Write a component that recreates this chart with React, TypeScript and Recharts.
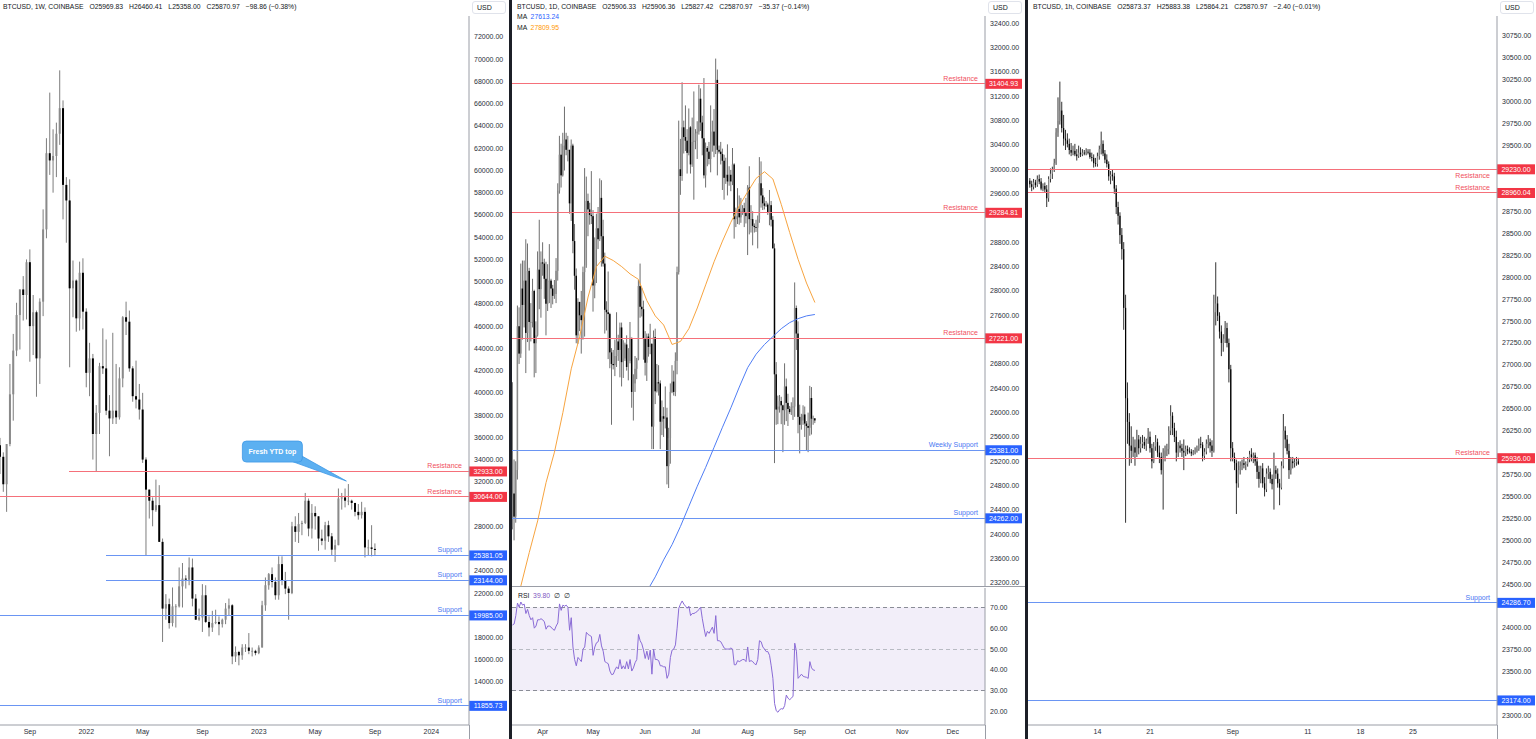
import React from 'react';
import { ComposedChart, Bar, Line, XAxis, YAxis, ReferenceLine, ReferenceArea, ReferenceDot } from 'recharts';

type OHLC = [number, number, number, number];
type Level = { price: number; kind: 'res' | 'sup'; text: string; from?: number; below?: boolean };

// ---------------- Weekly (1W) : index 0 = week of 5 Jul 2021 ----------------
const weeklyCandles: OHLC[] = [
  [35290, 35950, 32700, 34250], [34250, 34650, 31100, 31780], [31780, 35400, 29300, 35400], [35400, 42600, 35200, 39870],
  [39870, 45300, 37500, 43800], [43800, 48100, 43300, 47000], [47000, 49300, 43900, 49300], [49300, 50500, 46500, 48800],
  [48800, 52000, 46600, 51750], [51750, 52900, 42800, 46000], [46000, 48800, 43400, 47250], [47250, 47400, 39650, 43100],
  [43100, 48500, 40800, 48200], [48200, 56500, 46900, 54700], [54700, 62900, 53900, 61550], [61550, 67000, 59600, 60900],
  [60900, 63700, 58000, 61300], [61300, 64300, 59400, 63300], [63300, 69000, 62300, 65600], [65600, 66300, 55600, 58700],
  [58700, 59400, 53500, 57300], [57300, 59200, 42300, 49400], [49400, 51900, 46800, 50100], [50100, 50200, 45500, 46700],
  [46700, 51800, 45600, 50800], [50800, 52100, 45700, 47300], [47300, 47600, 40500, 41800], [41800, 44500, 39700, 43100],
  [43100, 43500, 34000, 36300], [36300, 38900, 32900, 38200], [38200, 42700, 36300, 42400], [42400, 45800, 41700, 42200],
  [42200, 44800, 38000, 38400], [38400, 39800, 34300, 37700], [37700, 45400, 37200, 38400], [38400, 42600, 37200, 37800],
  [37800, 42300, 37600, 41300], [41300, 46900, 40500, 46800], [46800, 48200, 45200, 46400], [46400, 47400, 41900, 42200],
  [42200, 42400, 39200, 39700], [39700, 42900, 38600, 39400], [39400, 40800, 37600, 38500], [38500, 40000, 33700, 34000],
  [34000, 34200, 25400, 31300], [31300, 31300, 28700, 30300], [30300, 30600, 28000, 29450], [29450, 32200, 29300, 29900],
  [29900, 31700, 26600, 26600], [26600, 26900, 17600, 20600], [20600, 21900, 19600, 21000], [21000, 21500, 18800, 19300],
  [19300, 22500, 19000, 20800], [20800, 21000, 18900, 20800], [20800, 24300, 20700, 22600], [22600, 24700, 20700, 23300],
  [23300, 23600, 22400, 23200], [23200, 25200, 22700, 24300], [24300, 25100, 20800, 21500], [21500, 21900, 19600, 19600],
  [19600, 20600, 19500, 19800], [19800, 22800, 18500, 21800], [21800, 22700, 19300, 19400], [19400, 19900, 18100, 18900],
  [18900, 20400, 18500, 19300], [19300, 20500, 19200, 19400], [19400, 19900, 18200, 19200], [19200, 19700, 18900, 19600],
  [19600, 21100, 19200, 20600], [20600, 21500, 20000, 20900], [20900, 21000, 15600, 16300], [16300, 17200, 15800, 16700],
  [16700, 16800, 15500, 16400], [16400, 17400, 16000, 17100], [17100, 17400, 16700, 17100], [17100, 18400, 16500, 16800],
  [16800, 17100, 16300, 16800], [16800, 16900, 16400, 16600], [16600, 17300, 16500, 17100], [17100, 21300, 17100, 20900],
  [20900, 23400, 20400, 22700], [22700, 23800, 22300, 23700], [23700, 24300, 22500, 23000], [23000, 23400, 21400, 21800],
  [21800, 25300, 21400, 24600], [24600, 25300, 22700, 23100], [23100, 23900, 21900, 22400], [22400, 22600, 19600, 22000],
  [22000, 28400, 21900, 28000], [28000, 28900, 26600, 27500], [27500, 29200, 26500, 28200], [28200, 28500, 27200, 28300],
  [28300, 31000, 28200, 30300], [30300, 30500, 27100, 27800], [27800, 30000, 26900, 29200], [29200, 29800, 27700, 28900],
  [28900, 28900, 25800, 26900], [26900, 27700, 26300, 26700], [26700, 28400, 25900, 28100], [28100, 28500, 26600, 27100],
  [27100, 27400, 25400, 25900], [25900, 26800, 24800, 26300], [26300, 31400, 26300, 30500], [30500, 31000, 29500, 30600],
  [30600, 31400, 29700, 30300], [30300, 31800, 29900, 30300], [30300, 30400, 29500, 30100], [30100, 30100, 28900, 29300],
  [29300, 30000, 28600, 29000], [29000, 30200, 28700, 29300], [29300, 29700, 25200, 26100], [26100, 26800, 25350, 26100],
  [26100, 28100, 25300, 25970], [25969.83, 26460.41, 25358.0, 25870.97],
];
const weeklyTickWeeks = [9, 26, 43, 61, 78, 95, 113, 130];
const weeklyTickLabels = ['Sep', '2022', 'May', 'Sep', '2023', 'May', 'Sep', '2024'];
const weeklyPriceTicks = [12000, 14000, 16000, 18000, 20000, 22000, 24000, 26000, 28000, 30000, 32000, 34000, 36000, 38000, 40000,
  42000, 44000, 46000, 48000, 50000, 52000, 54000, 56000, 58000, 60000, 62000, 64000, 66000, 68000, 70000, 72000];
const weeklyLevels: Level[] = [
  { price: 32933, kind: 'res', text: 'Resistance', from: 20.8 },
  { price: 30644, kind: 'res', text: 'Resistance', from: 0 },
  { price: 25381.05, kind: 'sup', text: 'Support', from: 31.9 },
  { price: 23144, kind: 'sup', text: 'Support', from: 31.9 },
  { price: 19985, kind: 'sup', text: 'Support', from: 0 },
  { price: 11855.73, kind: 'sup', text: 'Support', from: 0 },
];
const weeklyCalloutWeek = 105;
const weeklyCalloutText = 'Fresh YTD top';
const weeklyHeader = ['BTCUSD, 1W, COINBASE', 'O25969.83', 'H26460.41', 'L25358.00', 'C25870.97', '\u221298.86 (\u22120.38%)'];

// ---------------- Daily (1D) : index 0 = 14 Mar 2023 ----------------
const dailyCandles: OHLC[] = [
  // Mar 14-31
  [24120, 26500, 24080, 24670], [24670, 25230, 23900, 24290], [24290, 25200, 24190, 25060], [25060, 27760, 24900, 27420],
  [27420, 27730, 26800, 26970], [26970, 28450, 26900, 28040], [28040, 28500, 27200, 27770], [27770, 28500, 27400, 28170],
  [28170, 28850, 26650, 27310], [27310, 28780, 27160, 28330], [28330, 28380, 27020, 27490], [27490, 27800, 27170, 27490],
  [27490, 28200, 27400, 28000], [28000, 28020, 26580, 27140], [27140, 27500, 26650, 27270], [27270, 28650, 27250, 28350],
  [28350, 29170, 27700, 28030], [28030, 28650, 27560, 28470],
  // Apr
  [28470, 28800, 28250, 28450], [28450, 28530, 27870, 28200], [28200, 28480, 27270, 27790], [27790, 28440, 27670, 28170],
  [28170, 28770, 27800, 28170], [28170, 28200, 27720, 28040], [28040, 28100, 27780, 27920], [27920, 28180, 27870, 27950],
  [27950, 28540, 27800, 28330], [28330, 29770, 28170, 29650], [29650, 30550, 29600, 30240], [30240, 30420, 29700, 29900],
  [29900, 30600, 29880, 30390], [30390, 31030, 29980, 30490], [30490, 30600, 30230, 30320], [30320, 30550, 30130, 30320],
  [30320, 30320, 29270, 29440], [29440, 30490, 29150, 30390], [30390, 30420, 28620, 28820], [28820, 29100, 28020, 28250],
  [28250, 28370, 27140, 27270], [27270, 27880, 27130, 27820], [27820, 27820, 27340, 27600], [27600, 28000, 26970, 27520],
  [27520, 28400, 27200, 28310], [28310, 30020, 27250, 28420], [28420, 29880, 28380, 29480], [29480, 29600, 28900, 29340],
  [29340, 29450, 29090, 29250], [29250, 29970, 29100, 29230],
  // May
  [29230, 29330, 27660, 28090], [28090, 28880, 27880, 28680], [28680, 29270, 28130, 29030], [29030, 29380, 28690, 28850],
  [28850, 29850, 28820, 29530], [29530, 29820, 28400, 28900], [28900, 29170, 28400, 28450], [28450, 28630, 27300, 27690],
  [27690, 27830, 27350, 27650], [27650, 28320, 26880, 27620], [27620, 27640, 26730, 26990], [26990, 27060, 25800, 26800],
  [26800, 27030, 26710, 26780], [26780, 27200, 26600, 26930], [26930, 27650, 26750, 27170], [27170, 27280, 26850, 27030],
  [27030, 27480, 26580, 27400], [27400, 27480, 26430, 26830], [26830, 27190, 26570, 26890], [26890, 27150, 26850, 27120],
  [27120, 27270, 26690, 26750], [26750, 27060, 26530, 26850], [26850, 27490, 26810, 27230], [27230, 27230, 26080, 26340],
  [26340, 26630, 25870, 26480], [26480, 26930, 26340, 26720], [26720, 26900, 26550, 26870], [26870, 28180, 26860, 28080],
  [28080, 28450, 27560, 27740], [27740, 28050, 27580, 27700], [27700, 27840, 26870, 27220],
  // Jun
  [27220, 27340, 26610, 26820], [26820, 27300, 26520, 27250], [27250, 27300, 26920, 27080], [27080, 27460, 26960, 27130],
  [27130, 27140, 25400, 25770], [25770, 27350, 25400, 27240], [27240, 27380, 26140, 26350], [26350, 26800, 26330, 26500],
  [26500, 26780, 26280, 26480], [26480, 26530, 25400, 25850], [25850, 26200, 25630, 25940], [25940, 26090, 25600, 25900],
  [25900, 26430, 25740, 25920], [25920, 26080, 24820, 25120], [25120, 25750, 24760, 25580], [25580, 26480, 25160, 26340],
  [26340, 26780, 26320, 26510], [26510, 26690, 26280, 26340], [26340, 26990, 26270, 26850], [26850, 28400, 26630, 28310],
  [28310, 30800, 28270, 30000], [30000, 30500, 29580, 29890], [29890, 31430, 29810, 30690], [30690, 30800, 30260, 30530],
  [30530, 31050, 30300, 30470], [30470, 30660, 29930, 30270], [30270, 31000, 30230, 30690], [30690, 30710, 29930, 30080],
  [30080, 30850, 30040, 30450], [30450, 31280, 29500, 30470],
  // Jul
  [30470, 30660, 30330, 30590], [30590, 30790, 30170, 30620], [30620, 31390, 30570, 31160], [31160, 31330, 30630, 30770],
  [30770, 30880, 30230, 30510], [30510, 31500, 29850, 29900], [29900, 30440, 29700, 30350], [30350, 30380, 30050, 30290],
  [30290, 30450, 30080, 30170], [30170, 31050, 29950, 30410], [30410, 30800, 30290, 30620], [30620, 30990, 30200, 30390],
  [30390, 31820, 30250, 31470], [31470, 31640, 29900, 30320], [30320, 30390, 30260, 30290], [30290, 30450, 30080, 30250],
  [30250, 30340, 29660, 30140], [30140, 30240, 29500, 29860], [29860, 30190, 29760, 29910], [29910, 30410, 29570, 29800],
  [29800, 30050, 29730, 29910], [29910, 29990, 29640, 29800], [29800, 30350, 29740, 30080], [30080, 30100, 28860, 29180],
  [29180, 29370, 29050, 29230], [29230, 29690, 29100, 29350], [29350, 29570, 29090, 29210], [29210, 29530, 29120, 29320],
  [29320, 29410, 29250, 29360], [29360, 29450, 29050, 29280], [29280, 29530, 29110, 29230],
  // Aug
  [29230, 29740, 28590, 29700], [29700, 30050, 28930, 29180], [29180, 29410, 28960, 29180], [29180, 29310, 28750, 29070],
  [29070, 29110, 28960, 29050], [29050, 29170, 28970, 29040], [29040, 29240, 28700, 29180], [29180, 30200, 29120, 29770],
  [29770, 30130, 29370, 29570], [29570, 29690, 29330, 29440], [29440, 29540, 29340, 29400], [29400, 29480, 29380, 29420],
  [29420, 29450, 29250, 29290], [29290, 29660, 29080, 29410], [29410, 29480, 29060, 29170], [29170, 29230, 28700, 28700],
  [28700, 28780, 25170, 26630], [26630, 26830, 25800, 26050], [26050, 26280, 25810, 26100], [26100, 26290, 26000, 26190],
  [26190, 26260, 25810, 26120], [26120, 26130, 25350, 26040], [26040, 26810, 25800, 26430], [26430, 26560, 25860, 26160],
  [26160, 26310, 25780, 26060], [26060, 26110, 25980, 26010], [26010, 26170, 25960, 26090], [26090, 26250, 25880, 26100],
  [26100, 28140, 25930, 27720], [27720, 27760, 27030, 27300], [27300, 27500, 25660, 25930],
  // Sep 1-10
  [25930, 26130, 25330, 25800], [25800, 25980, 25720, 25870], [25870, 26120, 25800, 25970], [25970, 26100, 25600, 25820],
  [25820, 25860, 25380, 25780], [25780, 26000, 25350, 25750], [25750, 26440, 25620, 26240], [26240, 26420, 25640, 25900],
  [25900, 25950, 25800, 25906.33], [25906.33, 25906.36, 25827.42, 25870.97],
];
const rsiValues = [
  61.5, 62, 66, 72, 70, 72.5, 71, 71.5, 67, 69,
  66, 64, 65, 60, 61, 64, 64, 64.5, 64, 63,
  59.5, 61, 61, 60.5, 59.5, 59, 61, 62.5, 71.6, 68.5,
  71, 70.5, 71, 70, 59, 65, 51, 45, 42, 46,
  45, 44, 50, 51, 58, 57, 56.5, 56, 47, 51,
  53, 53.5, 57, 51.5, 49, 44, 43.5, 43, 39.5, 37.8,
  38, 40, 41.5, 40.5, 45, 40.5, 42, 40.5, 44, 40.5,
  45, 39.5, 41, 43.5, 45, 57, 54, 52.5, 49.5, 45.5,
  49, 45, 49.5, 38, 50, 45, 45, 44.5, 42, 42,
  41.5, 41.5, 36, 38, 46, 49.5, 50, 52, 60, 69.5,
  71.5, 73, 71.5, 70.5, 69.5, 70.5, 66, 67, 67, 67.5,
  68, 69, 70, 64.5, 60, 56, 58.5, 57.5, 59, 60.5,
  57.5, 66, 54, 54, 53.5, 52, 50.5, 50, 50, 50,
  50.5, 50, 42.5, 42.5, 44.5, 44, 44.5, 45, 45, 44,
  51, 44, 44.5, 44, 43, 42.5, 45, 54, 53.5, 51,
  50, 48.8, 48.8, 47, 42, 36, 24, 20.5, 19.8, 21,
  21.5, 21.3, 23, 28, 26.5, 25.8, 26.5, 27.5, 52.8, 49,
  36, 37, 38, 37, 36.7, 36.5, 36, 44, 41, 40, 39.8,
];
// moving averages read every 5th day (day 0, 5, 10, ... 180)
const maFastEvery5 = [22400, 23150, 23700, 24220, 24850, 25350, 26000, 26720, 27250, 27900, 28400, 28570, 28500, 28400,
  28280, 28190, 27840, 27590, 27440, 27120, 27170, 27380, 27720, 28100, 28480, 28820, 29130, 29400, 29630, 29850, 29960,
  29840, 29420, 28960, 28520, 28130, 27809.95];
const maSlowEvery5: (number | null)[] = [null, null, null, null, null, null, null, null, null, null, null, null, null, null,
  null, 22700, 23060, 23300, 23580, 23830, 24130, 24460, 24790, 25100, 25430, 25760, 26080, 26420, 26740, 26960, 27120,
  27250, 27380, 27480, 27545, 27590, 27613.24];
const dailyTickDays = [18, 48, 79, 109, 140, 171, 201, 232, 262];
const dailyTickLabels = ['Apr', 'May', 'Jun', 'Jul', 'Aug', 'Sep', 'Oct', 'Nov', 'Dec'];
const dailyPriceTicks = [23200, 23600, 24000, 24400, 24800, 25200, 25600, 26000, 26400, 26800, 27200, 27600, 28000, 28400,
  28800, 29200, 29600, 30000, 30400, 30800, 31200, 31600, 32000, 32400];
const rsiTicks = [20, 30, 40, 50, 60, 70];
const dailyLevels: Level[] = [
  { price: 31404.93, kind: 'res', text: 'Resistance' },
  { price: 29284.81, kind: 'res', text: 'Resistance' },
  { price: 27221, kind: 'res', text: 'Resistance' },
  { price: 25381, kind: 'sup', text: 'Weekly Support' },
  { price: 24262, kind: 'sup', text: 'Support' },
];
const dailyHeader = ['BTCUSD, 1D, COINBASE', 'O25906.33', 'H25906.36', 'L25827.42', 'C25870.97', '\u221235.37 (\u22120.14%)'];

// ---------------- Intraday (1h chart, sampled 6-hourly) : index 0 = 5 Aug 2023 00:00 ----------------
const hourlyCandles: OHLC[] = [
  [29100, 29130, 29020, 29060], [29060, 29100, 28980, 29030], [29030, 29120, 29000, 29080], [29080, 29110, 29020, 29050],
  [29050, 29160, 29030, 29120], [29120, 29170, 29060, 29090], [29090, 29130, 28990, 29010], [29010, 29070, 28980, 29040],
  [29040, 29080, 28960, 29000], [29000, 29050, 28800, 28900], [28900, 29150, 28860, 29120], [29120, 29240, 29080, 29180],
  [29180, 29260, 29120, 29230], [29230, 29350, 29200, 29300], [29300, 29700, 29280, 29650], [29650, 30050, 29600, 29780],
  [29780, 30230, 29740, 29900], [29900, 30000, 29650, 29700], [29700, 29850, 29500, 29580], [29580, 29680, 29450, 29560],
  [29560, 29640, 29480, 29520], [29520, 29580, 29400, 29450], [29450, 29530, 29380, 29420], [29420, 29500, 29390, 29440],
  [29440, 29520, 29380, 29400], [29400, 29460, 29330, 29380], [29380, 29500, 29360, 29420], [29420, 29480, 29370, 29400],
  [29400, 29460, 29380, 29420], [29420, 29450, 29390, 29410], [29410, 29470, 29390, 29430], [29430, 29460, 29400, 29420],
  [29420, 29460, 29350, 29370], [29370, 29420, 29320, 29360], [29360, 29400, 29250, 29300], [29300, 29360, 29260, 29290],
  [29290, 29420, 29260, 29380], [29380, 29500, 29340, 29460], [29460, 29660, 29400, 29520], [29520, 29560, 29380, 29410],
  [29410, 29450, 29300, 29340], [29340, 29400, 29250, 29290], [29290, 29320, 29100, 29150], [29150, 29210, 29060, 29170],
  [29170, 29230, 29100, 29150], [29150, 29190, 28950, 29010], [29010, 29050, 28720, 28800], [28800, 28860, 28600, 28700],
  [28700, 28740, 28380, 28480], [28480, 28560, 28200, 28320], [28320, 28400, 27400, 27650], [27650, 27800, 25200, 26620],
  [26620, 26800, 26100, 26350], [26350, 26450, 25850, 26080], [26080, 26300, 25880, 26020], [26020, 26180, 25950, 26060],
  [26060, 26150, 25850, 26000], [26000, 26260, 25950, 26150], [26150, 26200, 25980, 26050], [26050, 26180, 26000, 26100],
  [26100, 26200, 26050, 26120], [26120, 26180, 26040, 26080], [26080, 26160, 26020, 26140], [26140, 26280, 26100, 26180],
  [26180, 26240, 26000, 26050], [26050, 26100, 25820, 25900], [25900, 26120, 25880, 26070], [26070, 26200, 26020, 26120],
  [26120, 26160, 25950, 26000], [26000, 26080, 25880, 25950], [25950, 26000, 25750, 25800], [25800, 26050, 25350, 25960],
  [25960, 26080, 25900, 26020], [26020, 26100, 25960, 26040], [26040, 26300, 25980, 26250], [26250, 26540, 26200, 26420],
  [26420, 26460, 26200, 26280], [26280, 26340, 26120, 26180], [26180, 26250, 25900, 26000], [26000, 26120, 25950, 26080],
  [26080, 26140, 26000, 26050], [26050, 26100, 25950, 26020], [26020, 26150, 25800, 26000], [26000, 26080, 25960, 26040],
  [26040, 26080, 25980, 26020], [26020, 26060, 25990, 26010], [26010, 26040, 25960, 25990], [25990, 26030, 25970, 26000],
  [26000, 26060, 25980, 26020], [26020, 26080, 26000, 26040], [26040, 26160, 26020, 26100], [26100, 26180, 26050, 26090],
  [26090, 26120, 25900, 25960], [25960, 26050, 25920, 26010], [26010, 26150, 25980, 26100], [26100, 26200, 26050, 26120],
  [26120, 26160, 26000, 26080], [26080, 26140, 25950, 26020], [26020, 27800, 26000, 27600], [27600, 28170, 27450, 27700],
  [27700, 27780, 27500, 27560], [27560, 27600, 27300, 27380], [27380, 27450, 27100, 27250], [27250, 27350, 27150, 27300],
  [27300, 27500, 27250, 27420], [27420, 27480, 27200, 27250], [27250, 27300, 26800, 26950], [26950, 27000, 25900, 26050],
  [26050, 26120, 25900, 25950], [25950, 26000, 25800, 25880], [25880, 25920, 25300, 25650], [25650, 25900, 25600, 25800],
  [25800, 25900, 25750, 25850], [25850, 25920, 25800, 25880], [25880, 25950, 25820, 25860], [25860, 25900, 25800, 25870],
  [25870, 25950, 25840, 25920], [25920, 26020, 25890, 25980], [25980, 26050, 25900, 25950], [25950, 26000, 25880, 25970],
  [25970, 26000, 25850, 25900], [25900, 25950, 25700, 25780], [25780, 25850, 25600, 25700], [25700, 25850, 25650, 25820],
  [25820, 25880, 25600, 25650], [25650, 25720, 25500, 25580], [25580, 25820, 25550, 25760], [25760, 25850, 25700, 25780],
  [25780, 25820, 25650, 25700], [25700, 25750, 25580, 25640], [25640, 26000, 25350, 25800], [25800, 25850, 25700, 25760],
  [25760, 25820, 25600, 25650], [25650, 25700, 25400, 25600], [25600, 25900, 25580, 25850], [25850, 26440, 25820, 26250],
  [26250, 26300, 26050, 26150], [26150, 26200, 25980, 26020], [26020, 26100, 25700, 25800], [25800, 25950, 25750, 25900],
  [25900, 25950, 25820, 25880], [25880, 25930, 25830, 25890], [25890, 25950, 25850, 25900], [25900, 25940, 25860, 25870.97],
];
const hourlyStepHours = 6;
const hourlyTickHours = [216, 384, 648, 888, 1056, 1224];
const hourlyTickLabels = ['14', '21', 'Sep', '11', '18', '25'];
const hourlyPriceTicks = [23000, 23250, 23500, 23750, 24000, 24250, 24500, 24750, 25000, 25250, 25500, 25750, 26000, 26250,
  26500, 26750, 27000, 27250, 27500, 27750, 28000, 28250, 28500, 28750, 29000, 29250, 29500, 29750, 30000, 30250, 30500, 30750];
const hourlyLevels: Level[] = [
  { price: 29230, kind: 'res', text: 'Resistance', below: true },
  { price: 28960.04, kind: 'res', text: 'Resistance' },
  { price: 25936, kind: 'res', text: 'Resistance' },
  { price: 24286.7, kind: 'sup', text: 'Support' },
  { price: 23174, kind: 'sup', text: '' },
];
const hourlyHeader = ['BTCUSD, 1h, COINBASE', 'O25873.37', 'H25883.38', 'L25864.21', 'C25870.97', '\u22122.40 (\u22120.01%)'];

// ---------------- styling ----------------
const FONT = '"Liberation Sans", Arial, sans-serif';
const TEXT = '#2a2e39';
const AXIS = '#9a9da6';
const RED = '#f23645';
const BLUE = '#2962ff';
const RED_LINE = '#f5707a';
const BLUE_LINE = '#6a95f3';
const UP_BODY = '#8a8a8a';
const DOWN_BODY = '#000000';
const TICK = { fontSize: 7, fill: TEXT };

const W_X: [number, number] = [0, 141.35];
const W_Y: [number, number] = [10133, 73888];
const D_X: [number, number] = [-0.27, 281.23];
const D_Y: [number, number] = [23149.6, 32520];
const R_Y: [number, number] = [13.7, 79.2];
const H_X: [number, number] = [-6.1, 1492.3];
const H_Y: [number, number] = [22894, 30978];

const weeklyRows = weeklyCandles.map(([o, h, l, c], w) => ({ w, o, h, l, c, range: [l, h] }));
const dailyRows = dailyCandles.map(([o, h, l, c], i) => ({
  i, o, h, l, c, range: [l, h], rsi: rsiValues[i],
  maFast: i % 5 === 0 ? maFastEvery5[i / 5] : null,
  maSlow: i % 5 === 0 ? maSlowEvery5[i / 5] : null,
}));
const hourlyRows = hourlyCandles.map(([o, h, l, c], k) => ({ t: k * hourlyStepHours, o, h, l, c, range: [l, h] }));

const fmt2 = (v: number) => v.toFixed(2);

// hide price-axis ticks that would sit under a level tag (as the price tags cover them)
const ticksClearOfTags = (ticks: number[], levels: Level[], domain: [number, number], plotH: number) =>
  ticks.filter((t) => levels.every((lv) => (Math.abs(t - lv.price) * plotH) / (domain[1] - domain[0]) >= 7.5));

const candleShape = (bodyW: number, wick: string) => (props: any) => {
  const { x, y, width, height, payload } = props;
  if (!payload || typeof x !== 'number' || typeof y !== 'number') return <g />;
  const { o, h, l, c } = payload;
  const cx = x + width / 2;
  const k = h > l ? height / (h - l) : 0;
  const yo = y + (h - o) * k;
  const yc = y + (h - c) * k;
  const up = c >= o;
  return (
    <g>
      <line x1={cx} x2={cx} y1={y} y2={y + height} stroke={wick} strokeWidth={1} />
      <rect x={cx - bodyW / 2} y={Math.min(yo, yc)} width={bodyW} height={Math.max(Math.abs(yc - yo), 0.8)}
        fill={up ? UP_BODY : DOWN_BODY} />
    </g>
  );
};
const weeklyShape = candleShape(2, '#7d7d7d');
const dailyShape = candleShape(1.5, '#6f6f6f');
const hourlyShape = candleShape(1.2, '#333333');

const levelLabel = (lv: Level, tagW: number) => (p: any) => {
  const vb = (p && p.viewBox) || p || {};
  const right = (vb.x || 0) + (vb.width || 0);
  const y = vb.y || 0;
  const isRes = lv.kind === 'res';
  return (
    <g>
      {lv.text ? (
        <text x={right - 7} y={lv.below ? y + 9 : y - 3} textAnchor="end" fontSize={7} fill={isRes ? '#f0505d' : '#4a78f2'}>
          {lv.text}
        </text>
      ) : null}
      <rect x={right} y={y - 5} width={tagW} height={10} fill={isRes ? RED : BLUE} />
      <text x={right + tagW / 2} y={y + 2.5} textAnchor="middle" fontSize={7} fill="#ffffff">{lv.price.toFixed(2)}</text>
    </g>
  );
};

const Callout = (props: any) => {
  const { cx, cy } = props;
  if (typeof cx !== 'number' || typeof cy !== 'number') return <g />;
  const bw = 60;
  const bh = 21;
  const bx = cx - 106;
  const by = cy - 43;
  const tipX = cx - 2;
  const tipY = cy - 3;
  return (
    <g>
      <path d={`M ${bx + bw - 10} ${by + bh - 0.5} L ${tipX} ${tipY} L ${bx + bw - 0.5} ${by + bh - 6} Z`}
        fill="#5cb0f1" stroke="#3d98e6" strokeWidth={0.8} />
      <rect x={bx} y={by} width={bw} height={bh} rx={4} fill="#5cb0f1" stroke="#3d98e6" strokeWidth={0.8} />
      <path d={`M ${bx + bw - 10} ${by + bh - 1.2} L ${bx + bw - 1.2} ${by + bh - 6}`} stroke="#5cb0f1" strokeWidth={1.6} />
      <text x={bx + bw / 2} y={by + bh / 2 + 2.5} textAnchor="middle" fontSize={7} fontWeight="bold" fill="#ffffff">
        {weeklyCalloutText}
      </text>
    </g>
  );
};

const Header = ({ parts, left }: { parts: string[]; left: number }) => (
  <div style={{ position: 'absolute', left, top: 2, height: 10, lineHeight: '10px', fontSize: 6.8, color: '#131722',
    whiteSpace: 'pre', display: 'flex', gap: 6 }}>
    {parts.map((t, n) => <span key={n}>{t}</span>)}
  </div>
);

const UsdBox = ({ left }: { left: number }) => (
  <div style={{ position: 'absolute', left, top: 1, width: 34, height: 13, border: '1px solid #e0e3eb', borderRadius: 3,
    boxSizing: 'border-box', fontSize: 7, lineHeight: '11px', paddingLeft: 4, color: '#131722', background: '#fff' }}>USD</div>
);

const Rule = ({ left, top, width, height, color }: { left: number; top: number; width: number; height: number; color: string }) => (
  <div style={{ position: 'absolute', left, top, width, height, background: color }} />
);

const tickFmt = (idx: number[], labels: string[]) => (v: number) => {
  const n = idx.indexOf(v);
  return n >= 0 ? labels[n] : '';
};

export default function App() {
  const lastFast = maFastEvery5[maFastEvery5.length - 1] as number;
  const lastSlow = maSlowEvery5[maSlowEvery5.length - 1] as number;
  const lastRsi = rsiValues[rsiValues.length - 1];
  return (
    <div style={{ position: 'fixed', left: 0, top: 0, width: 1536, height: 739, background: '#ffffff', overflow: 'hidden',
      fontFamily: FONT }}>
      {/* Panel 1 : weekly */}
      <div style={{ position: 'absolute', left: 0, top: 0 }}>
        <ComposedChart width={509} height={739} data={weeklyRows} margin={{ top: 16, right: 0, bottom: 0, left: 0 }}
          style={{ fontFamily: FONT }}>
          <XAxis type="number" dataKey="w" domain={W_X} allowDataOverflow ticks={weeklyTickWeeks} interval={0}
            tickFormatter={tickFmt(weeklyTickWeeks, weeklyTickLabels)} height={14} tickLine={false} tickSize={0}
            tickMargin={4} axisLine={{ stroke: AXIS }} tick={TICK} />
          <YAxis orientation="right" type="number" domain={W_Y} allowDataOverflow
            ticks={ticksClearOfTags(weeklyPriceTicks, weeklyLevels, W_Y, 709)} interval={0}
            tickFormatter={fmt2} width={40} tickLine={false} tickSize={0} tickMargin={5} axisLine={{ stroke: AXIS }} tick={TICK} />
          {weeklyLevels.map((lv) => (
            <Line key={`seg-${lv.price}`} data={[{ w: lv.from ?? W_X[0], lvl: lv.price }, { w: W_X[1], lvl: lv.price }]}
              dataKey="lvl" type="linear" stroke={lv.kind === 'res' ? RED_LINE : BLUE_LINE} strokeWidth={1} dot={false}
              activeDot={false} isAnimationActive={false} shapeRendering="crispEdges" />
          ))}
          {weeklyLevels.map((lv) => (
            <ReferenceLine key={lv.price} y={lv.price} stroke="none" label={levelLabel(lv, 38)} />
          ))}
          <Bar dataKey="range" barSize={3} shape={weeklyShape} isAnimationActive={false} />
          <ReferenceDot x={weeklyCalloutWeek} y={weeklyCandles[weeklyCalloutWeek][1]} r={0} shape={Callout} />
        </ComposedChart>
      </div>
      <Header parts={weeklyHeader} left={3} />
      <UsdBox left={472} />
      <Rule left={469} top={725} width={1} height={14} color={AXIS} />
      <Rule left={509} top={0} width={3} height={739} color="#1c1f27" />

      {/* Panel 2 : daily + RSI */}
      <div style={{ position: 'absolute', left: 512, top: 0 }}>
        <ComposedChart width={513} height={587} data={dailyRows} margin={{ top: 16, right: 0, bottom: 1, left: 0 }}
          style={{ fontFamily: FONT }}>
          <XAxis type="number" dataKey="i" domain={D_X} allowDataOverflow hide />
          <YAxis orientation="right" type="number" domain={D_Y} allowDataOverflow
            ticks={ticksClearOfTags(dailyPriceTicks, dailyLevels, D_Y, 570)} interval={0}
            tickFormatter={fmt2} width={40} tickLine={false} tickSize={0} tickMargin={5} axisLine={{ stroke: AXIS }} tick={TICK} />
          {dailyLevels.map((lv) => (
            <ReferenceLine key={lv.price} y={lv.price} stroke={lv.kind === 'res' ? RED_LINE : BLUE_LINE} strokeWidth={1}
              shapeRendering="crispEdges" label={levelLabel(lv, 37)} />
          ))}
          <Bar dataKey="range" barSize={2} shape={dailyShape} isAnimationActive={false} />
          <Line dataKey="maFast" type="linear" stroke="#f7a440" strokeWidth={1} dot={false} connectNulls isAnimationActive={false} />
          <Line dataKey="maSlow" type="linear" stroke="#4f7df5" strokeWidth={1} dot={false} connectNulls isAnimationActive={false} />
        </ComposedChart>
      </div>
      <div style={{ position: 'absolute', left: 512, top: 587 }}>
        <ComposedChart width={513} height={152} data={dailyRows} margin={{ top: 1, right: 0, bottom: 0, left: 0 }}
          style={{ fontFamily: FONT }}>
          <XAxis type="number" dataKey="i" domain={D_X} allowDataOverflow ticks={dailyTickDays} interval={0}
            tickFormatter={tickFmt(dailyTickDays, dailyTickLabels)} height={14} tickLine={false} tickSize={0} tickMargin={4}
            axisLine={{ stroke: AXIS }} tick={TICK} />
          <YAxis orientation="right" type="number" domain={R_Y} allowDataOverflow ticks={rsiTicks} interval={0}
            tickFormatter={fmt2} width={40} tickLine={false} tickSize={0} tickMargin={5} axisLine={{ stroke: AXIS }} tick={TICK} />
          <ReferenceArea y1={30} y2={70} fill="#7e57c2" fillOpacity={0.1} stroke="none" />
          <ReferenceLine y={70} stroke="#8a8d96" strokeDasharray="4 3" shapeRendering="crispEdges" />
          <ReferenceLine y={50} stroke="#b8bbc3" strokeDasharray="4 3" shapeRendering="crispEdges" />
          <ReferenceLine y={30} stroke="#8a8d96" strokeDasharray="4 3" shapeRendering="crispEdges" />
          <Line dataKey="rsi" type="linear" stroke="#8a6bd6" strokeWidth={1} dot={false} isAnimationActive={false} />
        </ComposedChart>
      </div>
      <Header parts={dailyHeader} left={517} />
      <div style={{ position: 'absolute', left: 517, top: 12, fontSize: 6.8, lineHeight: '10px', color: '#131722', whiteSpace: 'pre' }}>
        {'MA  '}<span style={{ color: '#2962ff' }}>{lastSlow.toFixed(2)}</span>
      </div>
      <div style={{ position: 'absolute', left: 517, top: 23, fontSize: 6.8, lineHeight: '10px', color: '#131722', whiteSpace: 'pre' }}>
        {'MA  '}<span style={{ color: '#ff9800' }}>{lastFast.toFixed(2)}</span>
      </div>
      <div style={{ position: 'absolute', left: 518, top: 591, fontSize: 6.8, lineHeight: '10px', color: '#131722', whiteSpace: 'pre' }}>
        {'RSI  '}<span style={{ color: '#7e57c2' }}>{lastRsi.toFixed(2)}</span>{'  \u2205  \u2205'}
      </div>
      <UsdBox left={988} />
      <Rule left={512} top={586} width={513} height={1} color={AXIS} />
      <Rule left={985} top={725} width={1} height={14} color={AXIS} />
      <Rule left={1025} top={0} width={3} height={739} color="#1c1f27" />

      {/* Panel 3 : 1h */}
      <div style={{ position: 'absolute', left: 1028, top: 0 }}>
        <ComposedChart width={508} height={739} data={hourlyRows} margin={{ top: 16, right: 0, bottom: 0, left: 0 }}
          style={{ fontFamily: FONT }}>
          <XAxis type="number" dataKey="t" domain={H_X} allowDataOverflow ticks={hourlyTickHours} interval={0}
            tickFormatter={tickFmt(hourlyTickHours, hourlyTickLabels)} height={14} tickLine={false} tickSize={0}
            tickMargin={4} axisLine={{ stroke: AXIS }} tick={TICK} />
          <YAxis orientation="right" type="number" domain={H_Y} allowDataOverflow
            ticks={ticksClearOfTags(hourlyPriceTicks, hourlyLevels, H_Y, 709)} interval={0}
            tickFormatter={fmt2} width={39} tickLine={false} tickSize={0} tickMargin={5} axisLine={{ stroke: AXIS }} tick={TICK} />
          {hourlyLevels.map((lv) => (
            <ReferenceLine key={lv.price} y={lv.price} stroke={lv.kind === 'res' ? RED_LINE : BLUE_LINE} strokeWidth={1}
              shapeRendering="crispEdges" label={levelLabel(lv, 38)} />
          ))}
          <Bar dataKey="range" barSize={2} shape={hourlyShape} isAnimationActive={false} />
        </ComposedChart>
      </div>
      <Header parts={hourlyHeader} left={1033} />
      <UsdBox left={1500} />
      <Rule left={1497} top={725} width={1} height={14} color={AXIS} />
    </div>
  );
}
